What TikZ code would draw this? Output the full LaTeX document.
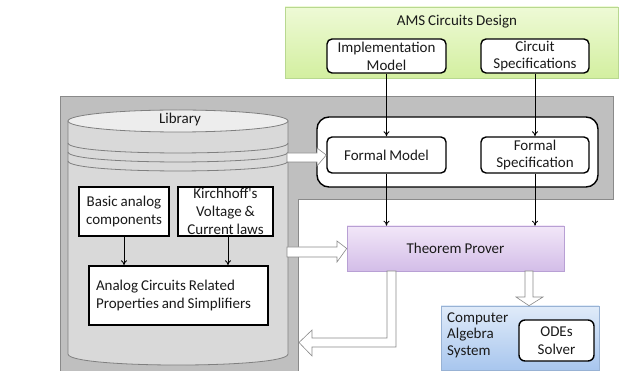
\documentclass[tikz,border=0pt]{standalone}
\usepackage{fontspec}
\setmainfont{Carlito}[Ligatures=TeXOff, WordSpace=0.85]
\usetikzlibrary{arrows.meta,positioning}
\definecolor{grayreg}{HTML}{BFBFBF}
\definecolor{grayline}{HTML}{8A8A8A}
\definecolor{cylbody}{HTML}{D9D9D9}
\definecolor{cyltop}{HTML}{EDEDED}
\definecolor{cylline}{HTML}{7F7F7F}
\definecolor{greentop}{HTML}{EEFAD6}
\definecolor{greenbot}{HTML}{D3EFA0}
\definecolor{greenline}{HTML}{B8D890}
\definecolor{purptop}{HTML}{F2E7F8}
\definecolor{purpbot}{HTML}{D3BDE8}
\definecolor{purpline}{HTML}{B8A0D4}
\definecolor{bluetop}{HTML}{E0EBF9}
\definecolor{bluebot}{HTML}{A8C6EE}
\definecolor{blueline}{HTML}{98B2D4}
\definecolor{txt}{HTML}{1A1A1A}
\tikzset{
  lbl/.style={font=\fontsize{15}{17.8}\selectfont, text=txt, inner sep=0pt},
  rbox/.style={draw=black, line width=1.4pt, rounded corners=5pt, fill=white,
    align=center, inner sep=0pt, font=\fontsize{15}{17.8}\selectfont, text=txt},
  sbox/.style={draw=black, line width=1.4pt, fill=white,
    align=center, inner sep=0pt, font=\fontsize{15}{17.8}\selectfont, text=txt},
  conn/.style={-{To[length=5pt,width=6pt]}, line width=0.8pt, black},
  blockarr/.style={fill=white, draw=grayline, line width=0.6pt},
}
\begin{document}
\begin{tikzpicture}[x=1pt,y=-1pt]
\useasboundingbox (0,0) rectangle (629,371);
% gray background region
\fill[grayreg] (60,97) -- (613,97) -- (613,200) -- (298,200) -- (298,371) -- (60,371) -- cycle;
\draw[grayline, line width=1pt] (60,371) -- (60,97) -- (613,97) -- (613,200) -- (298,200) -- (298,371);
% green box
\node (ams) [draw=greenline, line width=0.6pt, top color=greentop, bottom color=greenbot,
  minimum width=333pt, minimum height=71pt, inner sep=0pt] at (451.5,42.5) {};
\node (amst) [lbl] at (457,22) {AMS Circuits Design};
\node (impl) [rbox, minimum width=119pt, minimum height=34pt] at (386.5,56) {Implementation\\Model};
\node (cspec) [rbox, minimum width=108pt, minimum height=34pt] at (535,56) {Circuit\\Specifications};
% inner white box
\node (formal) [draw=black, line width=1.4pt, rounded corners=12pt, fill=white,
  minimum width=281pt, minimum height=70pt, inner sep=0pt] at (457.5,152) {};
\node (fmodel) [rbox, minimum width=119pt, minimum height=36pt] at (386.5,155) {Formal Model};
\node (fspec) [rbox, minimum width=108pt, minimum height=36pt] at (535,155) {Formal\\Specification};
% theorem prover
\node (tp) [draw=purpline, line width=0.6pt, top color=purptop, bottom color=purpbot,
  minimum width=217pt, minimum height=45pt, inner sep=0pt,
  font=\fontsize{15}{17.8}\selectfont, text=txt] at (455.5,248.5) {Theorem Prover};
% CAS
\node (cas) [draw=blueline, line width=0.6pt, top color=bluetop, bottom color=bluebot,
  minimum width=158pt, minimum height=64pt, inner sep=0pt] at (520,338) {};
\node (cast) [lbl, align=left, anchor=west, font=\fontsize{15}{16.6}\selectfont] at (447,335) {Computer\\Algebra\\System};
\node (odes) [rbox, rounded corners=6pt, minimum width=75pt, minimum height=41pt] at (556.5,340.5) {ODEs\\Solver};
% library cylinder
\path[fill=cylbody, draw=cylline, line width=0.8pt]
  (68,121) -- (68,354) .. controls (68,368.7) and (288,368.7) .. (288,354) -- (288,121) -- cycle;
\path[fill=cyltop, draw=cylline, line width=0.8pt] (178,121) ellipse [x radius=110pt, y radius=11pt];
\draw[cylline, line width=0.8pt] (68,143) .. controls (68,156.3) and (288,156.3) .. (288,143);
\draw[cylline, line width=0.8pt] (68,152) .. controls (68,165.3) and (288,165.3) .. (288,152);
\draw[cylline, line width=0.8pt] (68,161) .. controls (68,174.3) and (288,174.3) .. (288,161);
\node (lib) [lbl] at (180,120) {Library};
\node (basic) [sbox, minimum width=90pt, minimum height=49pt] at (124,211.5) {Basic analog\\components};
\node (kirch) [sbox, minimum width=95pt, minimum height=49pt] at (225.5,211.5) {Kirchhoff\textquotesingle s\\Voltage \&\\Current laws};
\node (analog) [sbox, align=flush left, text width=165pt, inner xsep=7pt, minimum height=59pt] at (178.5,295.5) {Analog Circuits Related\\Properties and Simplifiers};
% connectors
\draw[conn] (impl.south) -- (fmodel.north);
\draw[conn] (cspec.south) -- (fspec.north);
\draw[conn] (fmodel.south) -- (fmodel.south |- tp.north);
\draw[conn] (fspec.south) -- (fspec.south |- tp.north);
\draw[conn] (basic.south) -- (basic.south |- analog.north);
\draw[conn] ([xshift=2.5pt]kirch.south) -- ([xshift=2.5pt]kirch.south |- analog.north);
% block arrows
\draw[blockarr] (287,153) -- (317,153) -- (317,148) -- (fmodel.west) -- (317,166) -- (317,162) -- (287,162) -- cycle;
\draw[blockarr] (287,247) -- (337,247) -- (337,241) -- (tp.west) -- (337,262) -- (337,257) -- (287,257) -- cycle;
\coordinate (tpout) at (391.5,271);
\draw[blockarr] ([xshift=-4.5pt]tpout) -- ([xshift=4.5pt]tpout) -- (396,347) -- (312,347) -- (312,356) -- (299,342.5) -- (312,330) -- (312,338) -- (387,338) -- cycle;
\coordinate (tpdown) at (529,271);
\draw[blockarr] ([xshift=-4pt]tpdown) -- ([xshift=4pt]tpdown) -- (533,297) -- (543,297) -- (cas.north -| tpdown) -- (516,297) -- (525,297) -- cycle;
\end{tikzpicture}
\end{document}
